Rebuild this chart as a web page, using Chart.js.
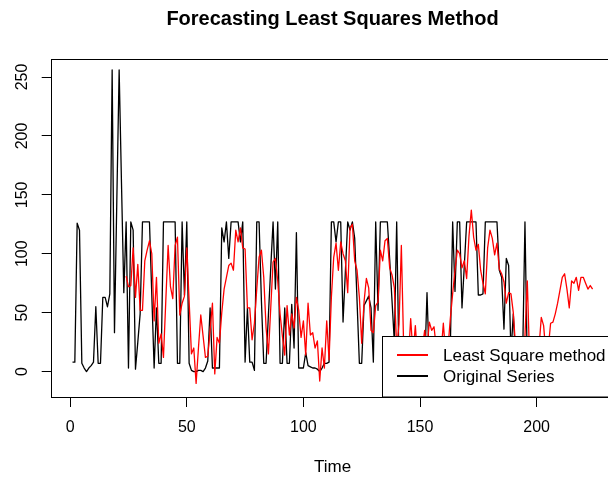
<!DOCTYPE html>
<html>
<head>
<meta charset="utf-8">
<script src="https://cdn.jsdelivr.net/npm/chart.js@4.4.1/dist/chart.umd.min.js"></script>
<style>
  html, body { margin: 0; padding: 0; background: #fff; overflow: hidden; }
  #wrap { width: 620px; height: 478px; }
</style>
</head>
<body>
<div id="wrap"><canvas id="tsChart" width="620" height="478"></canvas></div>
<script>
// chart data
const chartTitle = 'Forecasting Least Squares Method';
const xAxisTitle = 'Time';
const xTicks = [0, 50, 100, 150, 200];
const yTicks = [0, 50, 100, 150, 200, 250];

const originalLabel = 'Original Series';
const originalStart = 1;
const originalValues = [
  8, 8, 126, 120, 7, 3, 0, 3, 5, 8,
  55, 7, 7, 63, 63, 55, 66, 256, 33, 145,
  256, 160, 67, 127, 3, 127, 120, 2, 25, 49,
  127, 127, 127, 127, 65, 3, 54, 7, 7, 127,
  127, 127, 127, 127, 127, 7, 7, 127, 65, 127,
  7, 1, 0, 0, 1, 1, 0, 3, 9, 54,
  3, 3, 3, 3, 122, 110, 127, 96, 127, 127,
  127, 127, 110, 127, 8, 54, 8, 8, 1, 127,
  127, 60, 7, 7, 48, 88, 127, 70, 127, 7,
  7, 54, 7, 7, 57, 20, 118, 3, 3, 3,
  16, 5, 4, 3, 3, 2, 0, 3, 7, 7,
  8, 127, 127, 110, 127, 127, 42, 85, 127, 120,
  127, 113, 60, 7, 7, 56, 60, 64, 54, 8,
  127, 52, 127, 127, 127, 127, 95, 60, 25, 127,
  5, 3, 5, 8, 2, 0, 5, 10, 3, 5,
  8, 3, 67, 5, 8, 3, 2, 6, 10, 4,
  3, 8, 20, 127, 68, 127, 127, 54, 90, 127,
  127, 127, 127, 127, 65, 65, 66, 127, 127, 127,
  127, 127, 127, 86, 80, 36, 96, 90, 15, 49,
  10, 5, 8, 12, 127, 5, 8, 3, 6, 4
];

const forecastLabel = 'Least Square method';
const forecastStart = 24;
const forecastValues = [
  81, 72, 73, 105, 63, 91, 52, 52, 94, 103,
  111, 100, 43, 80, 24, 32, 12, 60, 107, 72,
  62, 107, 114, 48, 58, 64, 105, 60, 15, 20,
  -10, 20, 48, 30, 12, 13, 35, 58, -2, 29,
  24, 50, 70, 80, 90, 92, 86, 120, 110, 122,
  105, 104, 54, 54, 27, 41, 70, 97, 103, 80,
  37, 15, 54, 93, 96, 77, 49, 30, 14, 56,
  31, 49, 37, 63, 52, 29, 43, 14, 58, 31,
  33, 20, 26, -8, 20, 3, 43, 10, 63, 97,
  109, 86, 110, 100, 94, 67, 122, 125, 94, 86,
  63, 24, 59, 79, 71, 35, 33, 56, 59, 103,
  94, 111, 113, 88, 82, 71, 20, 40, 107, 20,
  15, 10, 45, 15, 39, 10, 15, 20, 35, 20,
  42, 35, 38, 20, 10, 15, 41, 15, 20, 45,
  66, 86, 103, 100, 88, 94, 79, 115, 137, 114,
  103, 108, 86, 75, 66, 105, 120, 113, 99, 109,
  87, 83, 76, 58, 67, 66, 50, 20, 10, 15,
  20, 30, 77, 10, 5, 10, 15, 20, 46, 39,
  15, 20, 41, 42, 49, 58, 69, 80, 83, 70,
  54, 77, 75, 80, 69, 80, 80, 75, 70, 73,
  70
];

const FONT = "'Liberation Sans', Arial, Helvetica, sans-serif";

function toPoints(start, values) {
  return values.map((v, i) => ({ x: start + i, y: v }));
}

// R style: frame box, title and an inset legend in the bottom right
const rFrame = {
  id: 'rFrame',
  afterDatasetsDraw(chart) {
    const { ctx, chartArea: a } = chart;
    ctx.save();

    // legend
    const lx = 382.5, ly = 336.5;
    ctx.fillStyle = '#fff';
    ctx.fillRect(lx, ly, a.right - lx, a.bottom - ly);
    ctx.strokeStyle = '#000';
    ctx.lineWidth = 1;
    ctx.strokeRect(lx, ly, a.right - lx, a.bottom - ly);
    ctx.font = '17px ' + FONT;
    ctx.textBaseline = 'middle';
    ctx.textAlign = 'left';
    chart.data.datasets.forEach((ds, i) => {
      const y = 355 + i * 21;
      ctx.strokeStyle = ds.borderColor;
      ctx.lineWidth = 2;
      ctx.beginPath();
      ctx.moveTo(397, y);
      ctx.lineTo(428, y);
      ctx.stroke();
      ctx.fillStyle = '#000';
      ctx.fillText(ds.label, 443, y + 1);
    });

    // plot box
    ctx.strokeStyle = '#000';
    ctx.lineWidth = 1;
    const x0 = Math.floor(a.left) + 0.5, y0 = Math.floor(a.top) + 0.5;
    ctx.strokeRect(x0, y0, Math.floor(a.right) + 0.5 - x0, Math.floor(a.bottom) + 0.5 - y0);

    // title
    ctx.fillStyle = '#000';
    ctx.font = 'bold 20px ' + FONT;
    ctx.textAlign = 'center';
    ctx.fillText(chartTitle, (a.left + a.right) / 2, 19);
    ctx.restore();
  }
};

const ctx = document.getElementById('tsChart');
new Chart(ctx, {
  type: 'line',
  data: {
    datasets: [
      {
        label: forecastLabel,
        data: toPoints(forecastStart, forecastValues),
        borderColor: '#ff0000',
        borderWidth: 1.3,
        pointRadius: 0,
        tension: 0,
        borderJoinStyle: 'round'
      },
      {
        label: originalLabel,
        data: toPoints(originalStart, originalValues),
        borderColor: '#000000',
        borderWidth: 1.3,
        pointRadius: 0,
        tension: 0,
        borderJoinStyle: 'round'
      }
    ]
  },
  options: {
    responsive: false,
    animation: false,
    events: [],
    layout: { padding: { top: 59, right: 6.6, bottom: 0, left: 0 } },
    plugins: {
      legend: { display: false },
      tooltip: { enabled: false },
      title: { display: false }
    },
    scales: {
      x: {
        type: 'linear',
        min: -7.92,
        max: 232.92,
        afterBuildTicks: s => { s.ticks = xTicks.map(v => ({ value: v })); },
        afterFit: s => { s.height = 81; },
        border: { display: false },
        grid: { display: true, drawOnChartArea: false, drawTicks: true, tickLength: 10, color: '#000' },
        ticks: { color: '#000', font: { family: FONT, size: 16 }, padding: 11, maxRotation: 0, autoSkip: false },
        title: { display: true, text: xAxisTitle, color: '#000', font: { family: FONT, size: 17 }, padding: { top: 0, bottom: 0 } }
      },
      y: {
        type: 'linear',
        min: -21.6,
        max: 265.3,
        afterBuildTicks: s => { s.ticks = yTicks.map(v => ({ value: v })); },
        afterFit: s => { s.width = 51.7; },
        border: { display: false },
        grid: { display: true, drawOnChartArea: false, drawTicks: true, tickLength: 10, color: '#000' },
        ticks: { color: '#000', font: { family: FONT, size: 16 }, padding: 6, minRotation: 90, maxRotation: 90, crossAlign: 'center', autoSkip: false }
      }
    }
  },
  plugins: [rFrame]
});
</script>
</body>
</html>
